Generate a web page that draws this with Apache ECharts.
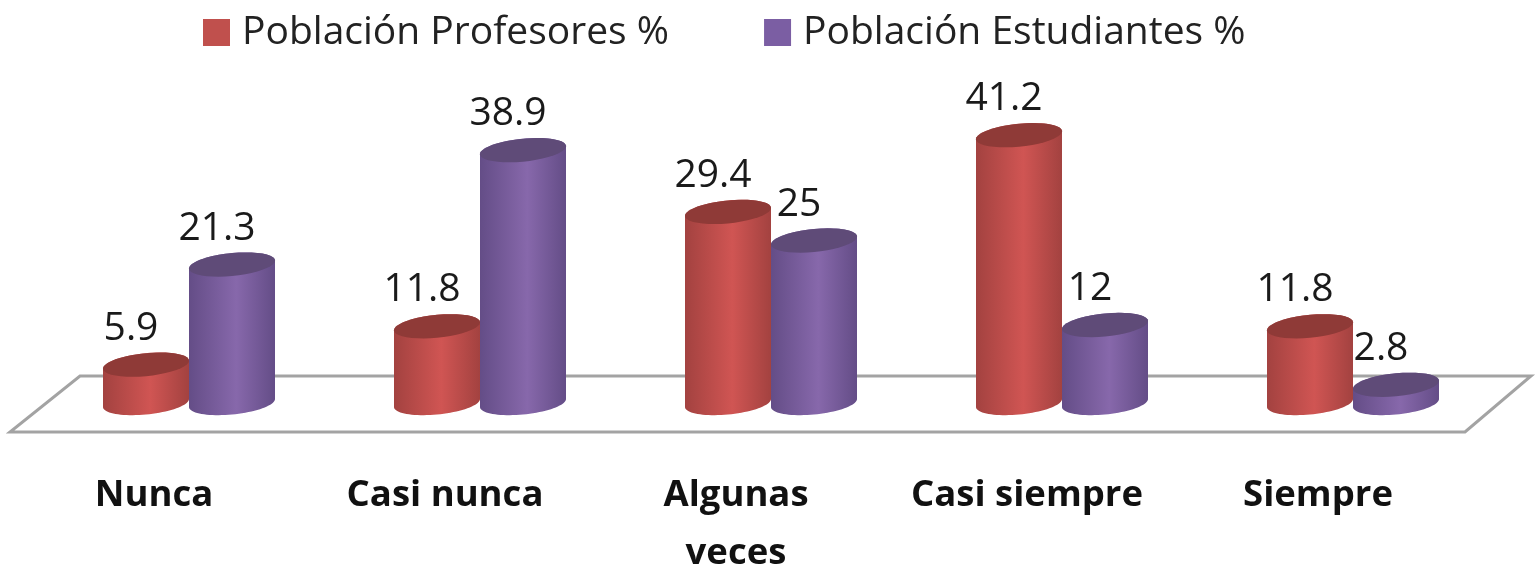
<!DOCTYPE html>
<html>
<head>
<meta charset="utf-8">
<style>
  html, body { margin: 0; padding: 0; background: #fff; }
  #chart { width: 1537px; height: 569px; }
</style>
<script src="https://cdn.jsdelivr.net/npm/echarts@6/dist/echarts.min.js"></script>
</head>
<body>
<div id="chart"></div>
<script>
const categories = ['Nunca', 'Casi nunca', 'Algunas\nveces', 'Casi siempre', 'Siempre']
const profesores = [5.9, 11.8, 29.4, 41.2, 11.8]
const estudiantes = [21.3, 38.9, 25, 12, 2.8]

const FONT = '"Open Sans", "Noto Sans", sans-serif'
const RX = 43, RY = 11.5, TILT = 4

// sheared ellipse, the right end sits higher than the left one
function ring(cx, cy, from, to) {
  const pts = []
  for (let i = 0; i <= 40; i++) {
    const t = from + (to - from) * i / 40
    pts.push([cx + RX * Math.cos(t), cy + RY * Math.sin(t) - TILT * Math.cos(t)])
  }
  return pts
}

function cylinder(offset, side, mid, cap) {
  const fill = new echarts.graphic.LinearGradient(0, 0, 1, 0, [
    { offset: 0, color: side },
    { offset: 0.55, color: mid },
    { offset: 1, color: side }
  ])
  return function (params, api) {
    const v = api.value(1)
    const top = api.coord([api.value(0), v])
    const base = api.coord([api.value(0), 0])
    const cx = top[0] + offset
    // lower half of the base, then over the top edge and back
    const body = ring(cx, base[1], 0, Math.PI).concat(ring(cx, top[1], Math.PI, Math.PI * 2))
    return {
      type: 'group',
      children: [
        { type: 'polygon', shape: { points: body }, style: { fill: fill } },
        { type: 'polygon', shape: { points: ring(cx, top[1], 0, Math.PI * 2) }, style: { fill: cap } },
        {
          type: 'text',
          z2: 10,
          x: cx - 15,
          y: top[1] - 36,
          style: {
            text: String(v),
            fill: '#1a1a1a',
            font: '39px ' + FONT,
            align: 'center',
            verticalAlign: 'middle'
          }
        }
      ]
    }
  }
}

const myChart = echarts.init(document.getElementById('chart'), null, { renderer: 'canvas' })
myChart.setOption({
  animation: false,
  backgroundColor: '#fff',
  legend: {
    left: 198,
    top: 8,
    icon: 'rect',
    itemWidth: 27,
    itemHeight: 27,
    itemGap: 95,
    textStyle: { fontFamily: FONT, fontSize: 39, color: '#222', padding: [0, 0, 0, 7] },
    data: ['Población Profesores %', 'Población Estudiantes %']
  },
  grid: { left: 43.5, width: 1455, top: 110.5, height: 292.5, outerBoundsMode: 'none' },
  xAxis: {
    type: 'category',
    data: categories,
    axisLine: { show: false },
    axisTick: { show: false },
    axisLabel: {
      margin: 64,
      interval: 0,
      fontFamily: FONT,
      fontWeight: 'bold',
      fontSize: 36.5,
      lineHeight: 58,
      color: '#111',
      padding: [0, 70, 0, 0]
    }
  },
  yAxis: { type: 'value', min: 0, max: 45, show: false },
  graphic: [{
    type: 'polygon',
    shape: { points: [[80, 376], [1531, 376], [1465, 432], [10, 432]] },
    style: { fill: '#fff', stroke: '#a3a3a3', lineWidth: 3 }
  }],
  series: [
    {
      name: 'Población Profesores %',
      type: 'custom',
      clip: false,
      itemStyle: { color: '#c0504d' },
      encode: { x: 0, y: 1 },
      data: profesores.map((v, i) => [i, v]),
      renderItem: cylinder(-43, '#a34240', '#d05553', '#8f3a37')
    },
    {
      name: 'Población Estudiantes %',
      type: 'custom',
      clip: false,
      itemStyle: { color: '#7b5ea3' },
      encode: { x: 0, y: 1 },
      data: estudiantes.map((v, i) => [i, v]),
      renderItem: cylinder(43, '#644d87', '#8768ab', '#5f4b78')
    }
  ]
})
</script>
</body>
</html>
